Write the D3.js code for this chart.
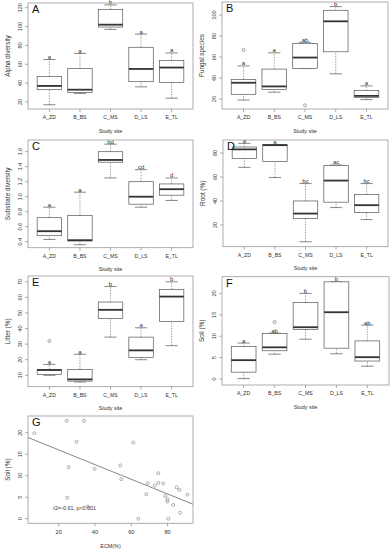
<!DOCTYPE html>
<html>
<head>
<meta charset="utf-8">
<script src="https://cdn.jsdelivr.net/npm/d3@7"></script>
<style>
body{margin:0;background:#fff}
text{font-family:"Liberation Sans",Arial,sans-serif;fill:#333}
</style>
</head>
<body>
<svg id="fig" width="390" height="550"></svg>
<script>
var sites = ["A_ZD", "B_BS", "C_MS", "D_LS", "E_TL"];

// five-number summaries per site: [low whisker, Q1, median, Q3, high whisker]
var alphaDiv = [[17, 33, 37, 47, 65], [29, 30, 33, 55.5, 71.5], [97, 99.5, 102, 118, 123], [36, 41.5, 55, 78, 92], [24, 40.5, 56.5, 64, 72]];
var alphaLetters = ["a", "a", "b", "a", "a"];
var alphaOut = [[], [], [], [], []];

var fungal = [[19, 24.5, 35.5, 38.5, 51.5], [26.5, 29, 32, 48.5, 64], [49, 49, 59.5, 73, 74], [44, 65, 94, 104.5, 108], [19.5, 21.5, 23, 28, 32.5]];
var fungalLetters = ["a", "a", "ab", "b", "a"];
var fungalOut = [[66.7], [], [14], [], []];

var substrate = [[0.43, 0.48, 0.54, 0.72, 0.86], [0.36, 0.41, 0.42, 0.75, 1.06], [1.25, 1.46, 1.49, 1.60, 1.70], [0.86, 0.90, 1.00, 1.20, 1.36], [0.95, 1.02, 1.10, 1.17, 1.25]];
var substrateLetters = ["a", "a", "bd", "cd", "d"];
var substrateOut = [[], [], [], [], []];

var root = [[68, 75.5, 83, 85, 88], [59.5, 73, 86.5, 87, 87], [6, 25.5, 29.5, 40, 54.5], [34.5, 39, 57, 69.5, 70], [24.5, 30.5, 36.5, 45.5, 54.5]];
var rootLetters = ["a", "a", "bc", "ac", "bc"];
var rootOut = [[], [], [], [], []];

var litter = [[10, 10.5, 13.4, 13.8, 17], [5.7, 6.3, 7.4, 13.8, 23.5], [34.5, 46.5, 52, 57, 67], [20, 21.5, 26, 34.5, 40.5], [29, 44.5, 60.5, 65, 70]];
var litterLetters = ["a", "a", "b", "a", "b"];
var litterOut = [[32], [], [], [], []];

var soil = [[0.1, 1.6, 4.4, 7.6, 8.4], [5.8, 6.6, 7.4, 10.6, 10.7], [9.3, 11.6, 12.1, 17.9, 20], [5.9, 7.2, 15.6, 22.7, 22.7], [3.0, 4.2, 5.1, 8.9, 12.6]];
var soilLetters = ["a", "ab", "b", "b", "ab"];
var soilOut = [[], [13.3], [], [], []];

// panel G scatter: ECM (%) vs soil (%)
var ecm = [6.6, 24.4, 33.9, 29.9, 25.5, 24.7, 36.1, 39.8, 53.9, 54.5, 61.1, 63.9, 68.3, 69.0, 72.9, 74.9, 74.9, 77.6, 78.7, 80.0, 79.8, 80.4, 83.1, 85.0, 86.4, 87.0, 90.9];
var soilCover = [19.9, 22.8, 22.8, 17.9, 12.0, 4.9, 2.8, 11.6, 12.4, 9.2, 17.7, 0, 5.7, 8.3, 7.7, 10.6, 8.3, 8.2, 5.3, 4.5, 4.0, 0, 3.2, 7.3, 6.7, 1.4, 5.6];
var fitIntercept = 19.43, fitSlope = -0.171;

var svg = d3.select('#fig');
svg.append('rect').attr('width', 390).attr('height', 550).attr('fill', '#fff');

function yAxis(g, y, ticks, left, fmt, title) {
  g.selectAll('line.yt').data(ticks).join('line')
    .attr('x1', left - 3).attr('x2', left)
    .attr('y1', function(d){ return y(d); }).attr('y2', function(d){ return y(d); })
    .attr('stroke', '#777').attr('stroke-width', 0.6);
  g.selectAll('text.yl').data(ticks).join('text')
    .attr('transform', function(d){ return 'translate(' + (left - 6) + ',' + y(d) + ') rotate(-90)'; })
    .attr('text-anchor', 'middle').attr('font-size', 5.6)
    .text(fmt);
  var mid = (y.range()[0] + y.range()[1]) / 2;
  g.append('text')
    .attr('transform', 'translate(' + (left - 18) + ',' + mid + ') rotate(-90)')
    .attr('text-anchor', 'middle').attr('font-size', 6.4)
    .text(title);
}

function frame(g, p, label, lx, ly) {
  g.append('rect')
    .attr('x', p.left).attr('y', p.top)
    .attr('width', p.right - p.left).attr('height', p.bottom - p.top)
    .attr('fill', 'none').attr('stroke', '#999').attr('stroke-width', 0.8);
  g.append('text').attr('x', p.left + 4).attr('y', p.top + 10)
    .attr('font-size', 11).style('fill', '#111').text(label);
}

function boxPanel(p) {
  var g = svg.append('g');
  var x = d3.scaleLinear().domain([0.3, 5.7]).range([p.left, p.right]);
  var y = d3.scaleLinear().domain(p.ydom).range([p.bottom, p.top]);
  var half = 0.4 * (x(2) - x(1)), cap = half / 2;
  var rows = p.stats.map(function(d, i){ return {s: d, i: i, cx: x(i + 1), out: p.out[i], lab: p.letters[i]}; });

  var b = g.selectAll('g.site').data(rows).join('g');
  // whiskers
  b.append('line').attr('x1', function(d){ return d.cx; }).attr('x2', function(d){ return d.cx; })
    .attr('y1', function(d){ return y(d.s[0]); }).attr('y2', function(d){ return y(d.s[1]); })
    .attr('stroke', '#666').attr('stroke-width', 0.6).attr('stroke-dasharray', '1.5,1.2');
  b.append('line').attr('x1', function(d){ return d.cx; }).attr('x2', function(d){ return d.cx; })
    .attr('y1', function(d){ return y(d.s[3]); }).attr('y2', function(d){ return y(d.s[4]); })
    .attr('stroke', '#666').attr('stroke-width', 0.6).attr('stroke-dasharray', '1.5,1.2');
  // staples
  [0, 4].forEach(function(k){
    b.append('line').attr('x1', function(d){ return d.cx - cap; }).attr('x2', function(d){ return d.cx + cap; })
      .attr('y1', function(d){ return y(d.s[k]); }).attr('y2', function(d){ return y(d.s[k]); })
      .attr('stroke', '#555').attr('stroke-width', 0.7);
  });
  // box
  b.append('rect').attr('x', function(d){ return d.cx - half; }).attr('width', half * 2)
    .attr('y', function(d){ return y(d.s[3]); })
    .attr('height', function(d){ return y(d.s[1]) - y(d.s[3]); })
    .attr('fill', '#fff').attr('stroke', '#555').attr('stroke-width', 0.7);
  // median
  b.append('line').attr('x1', function(d){ return d.cx - half; }).attr('x2', function(d){ return d.cx + half; })
    .attr('y1', function(d){ return y(d.s[2]); }).attr('y2', function(d){ return y(d.s[2]); })
    .attr('stroke', '#333').attr('stroke-width', 1.8);
  // outliers
  b.selectAll('circle').data(function(d){ return d.out.map(function(v){ return {cx: d.cx, v: v}; }); }).join('circle')
    .attr('cx', function(d){ return d.cx; }).attr('cy', function(d){ return y(d.v); })
    .attr('r', 1.5).attr('fill', 'none').attr('stroke', '#666').attr('stroke-width', 0.6);
  // letters
  b.append('text').attr('x', function(d){ return d.cx; }).attr('y', function(d){ return y(d.s[4]) - 0.5; })
    .attr('text-anchor', 'middle').attr('font-size', 6).text(function(d){ return d.lab; });

  frame(g, p, p.label);
  yAxis(g, y, p.ticks, p.left, p.fmt || d3.format('d'), p.title);

  // x axis
  g.selectAll('line.xt').data(sites).join('line')
    .attr('x1', function(d, i){ return x(i + 1); }).attr('x2', function(d, i){ return x(i + 1); })
    .attr('y1', p.bottom).attr('y2', p.bottom + 3)
    .attr('stroke', '#777').attr('stroke-width', 0.6);
  g.selectAll('text.xl').data(sites).join('text')
    .attr('x', function(d, i){ return x(i + 1); }).attr('y', p.bottom + 10)
    .attr('text-anchor', 'middle').attr('font-size', 5.2).text(function(d){ return d; });
  g.append('text').attr('x', (p.left + p.right) / 2).attr('y', p.bottom + 23.5)
    .attr('text-anchor', 'middle').attr('font-size', 5.4).text('Study site');
}

boxPanel({label: 'A', left: 28, right: 193, top: 3, bottom: 109, ydom: [12.5, 125], ticks: [20, 40, 60, 80, 100, 120],
  stats: alphaDiv, letters: alphaLetters, out: alphaOut, title: 'Alpha diversity'});
boxPanel({label: 'B', left: 222, right: 388, top: 2, bottom: 109, ydom: [10.5, 112.4], ticks: [20, 40, 60, 80, 100],
  stats: fungal, letters: fungalLetters, out: fungalOut, title: 'Fungal species'});
boxPanel({label: 'C', left: 28, right: 193, top: 140, bottom: 247.7, ydom: [0.32, 1.756], ticks: [0.4, 0.6, 0.8, 1.0, 1.2, 1.4, 1.6],
  stats: substrate, letters: substrateLetters, out: substrateOut, title: 'Substrate diversity', fmt: d3.format('.1f')});
boxPanel({label: 'D', left: 223, right: 388, top: 140, bottom: 246.7, ydom: [1.9, 90.8], ticks: [20, 40, 60, 80],
  stats: root, letters: rootLetters, out: rootOut, title: 'Root  (%)'});
boxPanel({label: 'E', left: 28, right: 193, top: 276, bottom: 386.7, ydom: [2.7, 73.7], ticks: [10, 20, 30, 40, 50, 60, 70],
  stats: litter, letters: litterLetters, out: litterOut, title: 'Litter  (%)'});
boxPanel({label: 'F', left: 222, right: 389, top: 276.7, bottom: 385, ydom: [-1.4, 23.9], ticks: [0, 5, 10, 15, 20],
  stats: soil, letters: soilLetters, out: soilOut, title: 'Soil  (%)'});

// panel G: scatter with fitted line
(function(){
  var p = {left: 28, right: 193, top: 416, bottom: 523.3};
  var g = svg.append('g');
  var x = d3.scaleLinear().domain([3.1, 94]).range([p.left, p.right]);
  var y = d3.scaleLinear().domain([-1.07, 23.9]).range([p.bottom, p.top]);
  var pts = ecm.map(function(v, i){ return [v, soilCover[i]]; });

  g.selectAll('circle').data(pts).join('circle')
    .attr('cx', function(d){ return x(d[0]); }).attr('cy', function(d){ return y(d[1]); })
    .attr('r', 1.5).attr('fill', 'none').attr('stroke', '#777').attr('stroke-width', 0.6);

  var xd = x.domain();
  g.append('line')
    .attr('x1', x(xd[0])).attr('y1', y(fitIntercept + fitSlope * xd[0]))
    .attr('x2', x(xd[1])).attr('y2', y(fitIntercept + fitSlope * xd[1]))
    .attr('stroke', '#777').attr('stroke-width', 0.9);

  frame(g, p, 'G');
  yAxis(g, y, [0, 5, 10, 15, 20], p.left, d3.format('d'), 'Soil  (%)');

  var xt = [20, 40, 60, 80];
  g.selectAll('line.xt').data(xt).join('line')
    .attr('x1', function(d){ return x(d); }).attr('x2', function(d){ return x(d); })
    .attr('y1', p.bottom).attr('y2', p.bottom + 3)
    .attr('stroke', '#777').attr('stroke-width', 0.6);
  g.selectAll('text.xl').data(xt).join('text')
    .attr('x', function(d){ return x(d); }).attr('y', p.bottom + 10.5)
    .attr('text-anchor', 'middle').attr('font-size', 5.6).text(function(d){ return d; });
  g.append('text').attr('x', (p.left + p.right) / 2).attr('y', p.bottom + 24.5)
    .attr('text-anchor', 'middle').attr('font-size', 5.4).text('ECM(%)');
  g.append('text').attr('x', x(17)).attr('y', y(2.0))
    .attr('font-size', 5.4).text('r2=-0.61, p<0.001');
})();
</script>
</body>
</html>
